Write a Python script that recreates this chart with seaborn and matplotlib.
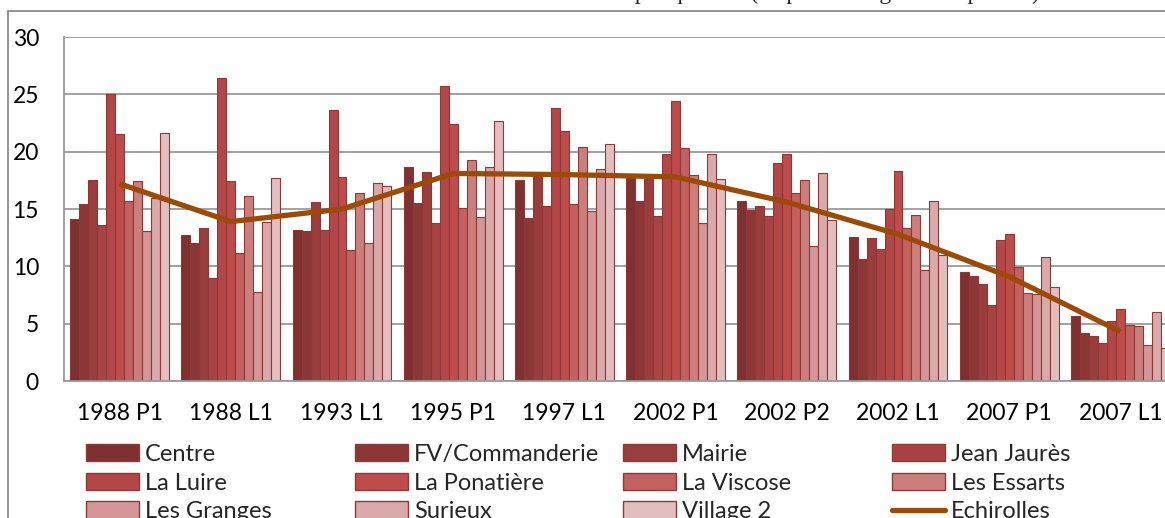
import numpy as np
import pandas as pd
import matplotlib
matplotlib.use("Agg")
import matplotlib.pyplot as plt
from matplotlib.patches import Patch
from matplotlib.lines import Line2D
import seaborn as sns

# Elections (scrutin + tour)
categories = ["1988 P1", "1988 L1", "1993 L1", "1995 P1", "1997 L1",
              "2002 P1", "2002 P2", "2002 L1", "2007 P1", "2007 L1"]

# Score par quartier (%)
centre    = [14.1, 12.7, 13.2, 18.7, 17.5, 17.7, 15.7, 12.6, 9.5, 5.7]
fv_comm   = [15.4, 12.0, 13.1, 15.5, 14.2, 15.7, 14.9, 10.6, 9.2, 4.2]
mairie    = [17.5, 13.3, 15.6, 18.2, 18.0, 17.6, 15.3, 12.5, 8.5, 3.9]
jean_j    = [13.6, 9.0, 13.2, 13.8, 15.3, 14.4, 14.4, 11.5, 6.6, 3.3]
la_luire  = [25.0, 26.4, 23.6, 25.7, 23.8, 19.8, 19.0, 15.0, 12.3, 5.2]
ponatiere = [21.5, 17.4, 17.8, 22.4, 21.8, 24.4, 19.8, 18.3, 12.8, 6.3]
viscose   = [15.7, 11.2, 11.4, 15.1, 15.4, 20.3, 16.4, 13.3, 9.9, 4.9]
essarts   = [17.4, 16.1, 16.4, 19.3, 20.4, 18.0, 17.5, 14.5, 7.7, 4.8]
granges   = [13.1, 7.8, 12.0, 14.3, 14.8, 13.8, 11.8, 9.7, 7.6, 3.1]
surieux   = [16.0, 13.9, 17.3, 18.7, 18.5, 19.8, 18.1, 15.7, 10.8, 6.0]
village2  = [21.6, 17.7, 17.0, 22.7, 20.7, 17.6, 14.0, 11.0, 8.2, 2.9]

# Moyenne communale
echirolles = [17.2, 13.9, 15.0, 18.1, 18.0, 17.8, 15.6, 12.8, 9.1, 4.3]

series_names = ["Centre", "FV/Commanderie", "Mairie", "Jean Jaurès",
                "La Luire", "La Ponatière", "La Viscose", "Les Essarts",
                "Les Granges", "Surieux", "Village 2"]
series_values = [centre, fv_comm, mairie, jean_j, la_luire, ponatiere,
                 viscose, essarts, granges, surieux, village2]

bar_colors = ["#7F3131", "#8C3636", "#9A3D3D", "#A84343", "#B34646",
              "#BD4C4A", "#C4615E", "#CC7E7D", "#D49696", "#DAA9A9",
              "#E2BEBE"]
edge_color = "#8E3838"
line_color = "#9C4A06"
grid_color = "#9A9A9A"

df = pd.DataFrame(
    [(c, s, v) for s, vals in zip(series_names, series_values)
     for c, v in zip(categories, vals)],
    columns=["scrutin", "quartier", "score"],
)

sns.set_style("white")
plt.rcParams["font.family"] = ["Lato", "DejaVu Sans"]

W, H = 1165, 518
fig = plt.figure(figsize=(W / 100, H / 100), dpi=100)

# plot area (extends past the right edge of the canvas)
left_px, right_px, top_px, bottom_px = 64, 1176, 37, 381
ax = fig.add_axes([left_px / W, 1 - bottom_px / H,
                   (right_px - left_px) / W, (bottom_px - top_px) / H])

sns.barplot(data=df, x="scrutin", y="score", hue="quartier",
            order=categories, hue_order=series_names, palette=bar_colors,
            saturation=1, width=0.888, errorbar=None, edgecolor=edge_color,
            linewidth=0.8, legend=False, ax=ax, zorder=2)

sns.lineplot(x=np.arange(len(categories)), y=echirolles, color=line_color,
             linewidth=3.8, ax=ax, zorder=3, solid_capstyle="butt")

ax.set_xlim(-0.5, len(categories) - 0.5)
ax.set_ylim(0, 30)
ax.set_yticks(np.arange(0, 31, 5))
ax.set_xlabel("")
ax.set_ylabel("")
ax.yaxis.grid(True, color=grid_color, linewidth=1.3)
ax.set_axisbelow(True)
for side in ("top", "right"):
    ax.spines[side].set_visible(False)
for side in ("left", "bottom"):
    ax.spines[side].set_color(grid_color)
    ax.spines[side].set_linewidth(1.3)

ax.set_xticks(np.arange(len(categories)))
ax.set_xticklabels(categories)
ax.set_xticks(np.arange(-0.5, len(categories), 1.0), minor=True)
ax.tick_params(axis="x", which="major", length=0, pad=16, labelsize=16.5,
               labelcolor="black")
ax.tick_params(axis="x", which="minor", length=5, width=1.3, color=grid_color,
               direction="out")
ax.tick_params(axis="y", length=5, width=1.3, color=grid_color, pad=13,
               labelsize=16.5, labelcolor="black", direction="out")

# outer chart frame
fig.add_artist(Line2D([8 / W, 8 / W], [0, 1 - 11 / H], color="#8C8C8C",
                      linewidth=1.3, transform=fig.transFigure))
fig.add_artist(Line2D([8 / W, 1], [1 - 11 / H, 1 - 11 / H], color="#8C8C8C",
                      linewidth=1.3, transform=fig.transFigure))

# title (only its lowest strokes fall inside the canvas)
fig.text(0.585, 1 + 0.5 / H,
         "Vote Front National à Échirolles par quartier (en pourcentage des exprimés)",
         ha="center", va="baseline", fontsize=17,
         family=["Liberation Serif", "DejaVu Serif"])

# legend: four columns, three rows
handles = [Patch(facecolor=c, edgecolor=edge_color, linewidth=1.0)
           for c in bar_colors]
handles.append(Line2D([], [], color=line_color, linewidth=3.8))
labels = series_names + ["Echirolles"]

col_x = [86, 355, 623, 892]
for j, x in enumerate(col_x):
    idx = [j, j + 4, j + 8]
    fig.legend([handles[i] for i in idx], [labels[i] for i in idx],
               loc="upper left", bbox_to_anchor=(x / W, 1 - 444 / H),
               frameon=False, fontsize=17, borderpad=0, borderaxespad=0,
               handlelength=2.25, handleheight=0.75, handletextpad=0.25,
               labelspacing=0.32)

fig.savefig("out.png", dpi=100)
